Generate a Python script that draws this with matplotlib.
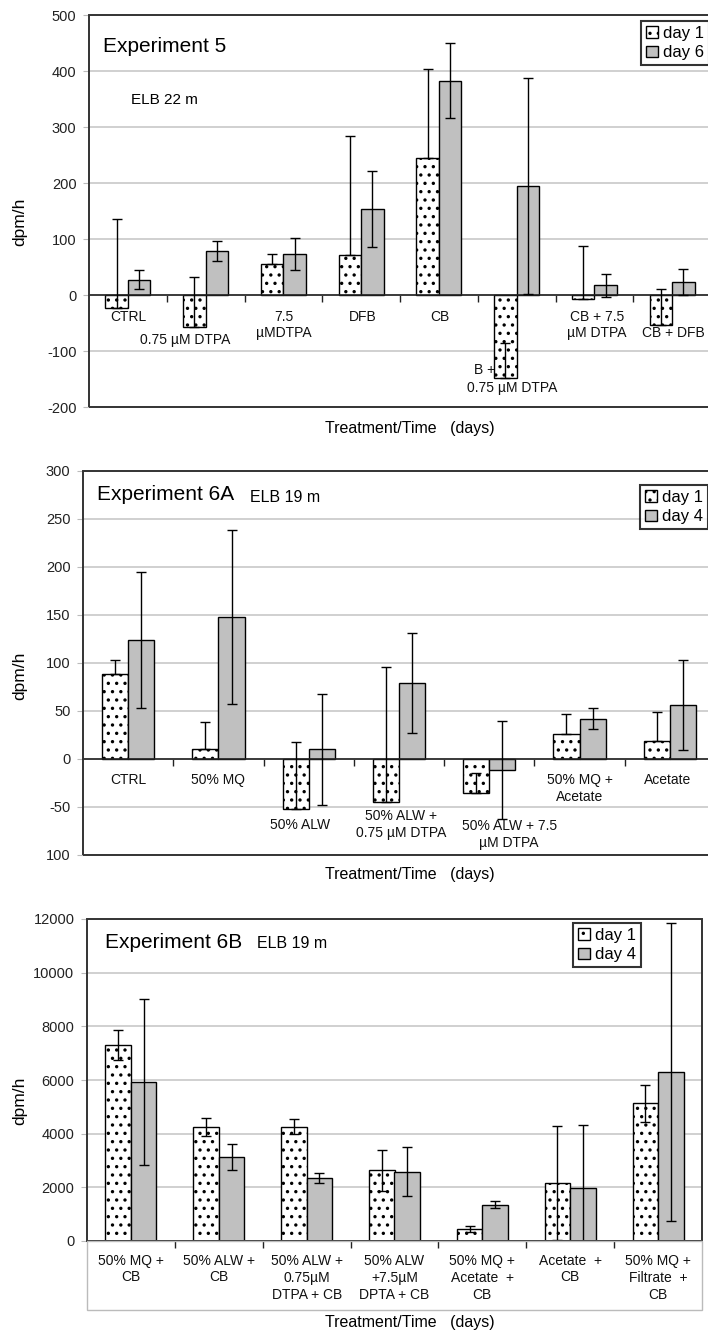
import numpy as np
import matplotlib
matplotlib.use("Agg")
import matplotlib.pyplot as plt
from matplotlib.patches import Patch, Rectangle
from matplotlib.transforms import blended_transform_factory

plt.rcParams['font.family'] = ['Liberation Sans', 'DejaVu Sans']
plt.rcParams['hatch.linewidth'] = 1.2
plt.rcParams['hatch.color'] = 'black'

W, H = 708, 1333

# ---- Experiment 5 (day 1 / day 6) ----
exp5_day1 = [-23, -57, 56, 72, 245, -148, -8, -53]
exp5_day1_err = [158, 90, 17, 212, 159, 63, 96, 63]      # plus only
exp5_day6 = [27, 78, 73, 153, 383, 194, 17, 23]
exp5_day6_err = [17, 18, 29, 68, 67, 193, 20, 23]

# ---- Experiment 6A (day 1 / day 4) ----
exp6a_day1 = [89, 10, -52, -45, -35, 26, 19]
exp6a_day1_err = [14, 29, 70, 141, 20, 21, 30]          # plus only
exp6a_day4 = [124, 148, 10, 79, -11, 42, 56]
exp6a_day4_err = [71, 91, 58, 52, 51, 11, 47]

# ---- Experiment 6B (day 1 / day 4) ----
exp6b_day1 = [7300, 4260, 4260, 2630, 440, 2150, 5130]
exp6b_day1_err = [550, 335, 285, 765, 110, 2130, 700]
exp6b_day4 = [5930, 3120, 2340, 2590, 1360, 1960, 6310]
exp6b_day4_err = [3090, 485, 190, 920, 125, 2360, 5550]

GRAY = '#c0c0c0'
FRAME = '#333333'


def rect(l, t, r, b):
    return [l / W, 1 - b / H, (r - l) / W, (b - t) / H]


def fy(py):
    return 1 - py / H


def panel(ax, d1, e1, d2, e2, plus_only, ylim, ticks, ticklabels):
    n = len(d1)
    x = np.arange(n) + 0.5
    w = 0.29
    ax.bar(x - w / 2, d1, w, color='white', edgecolor='black', lw=1,
           hatch='..', zorder=3)
    ax.bar(x + w / 2, d2, w, color=GRAY, edgecolor='black', lw=1, zorder=3)
    lo1 = np.zeros(n) if plus_only else e1
    ax.errorbar(x - w / 2, d1, yerr=[lo1, e1], fmt='none', ecolor='black',
                elinewidth=1, capsize=3.5, capthick=1, zorder=4)
    ax.errorbar(x + w / 2, d2, yerr=[e2, e2], fmt='none', ecolor='black',
                elinewidth=1, capsize=3.5, capthick=1, zorder=4)
    ax.set_xlim(0, n)
    ax.set_ylim(*ylim)
    ax.set_yticks(ticks)
    ax.set_yticklabels(ticklabels)
    ax.yaxis.grid(True, color='#c8c8c8', lw=1.2)
    ax.set_axisbelow(True)
    for s in ('left', 'right', 'top'):
        ax.spines[s].set_visible(False)
    ax.spines['bottom'].set_position(('data', 0))
    ax.spines['bottom'].set_color('#222222')
    ax.spines['bottom'].set_linewidth(1.2)
    ax.spines['bottom'].set_zorder(3.5)
    ax.set_xticks(np.arange(1, n))
    ax.set_xticklabels([])
    ax.tick_params(axis='x', direction='out', length=5, color='#222222', width=1)
    ax.tick_params(axis='y', direction='out', length=4, color='#bbbbbb',
                   labelsize=10.5, labelcolor='#222222', pad=5)
    ax.add_patch(Rectangle((0, 0), 1, 1, transform=ax.transAxes, fill=False,
                           ec=FRAME, lw=1.4, clip_on=False, zorder=5))


def cat_labels(ax, items, fs=10, ls=1.2):
    tr = blended_transform_factory(ax.transData, fig.transFigure)
    for i, txt, dx, py in items:
        ax.text(i + 0.5 + dx, fy(py), txt, transform=tr, ha='center',
                va='center', fontsize=fs, linespacing=ls, color='#111111',
                zorder=1)


def legend(handles_labels, x, y):
    hs = [Patch(facecolor='white', edgecolor='black', hatch='..'),
          Patch(facecolor=GRAY, edgecolor='black')]
    leg = fig.legend(hs, handles_labels, loc='upper left',
                     bbox_to_anchor=(x / W, fy(y)), frameon=True, fancybox=False,
                     edgecolor='black', fontsize=12, handlelength=0.7,
                     handleheight=0.7, handletextpad=0.3, borderpad=0.3,
                     labelspacing=0.25, borderaxespad=0)
    leg.get_frame().set_linewidth(1.5)


fig = plt.figure(figsize=(W / 100, H / 100), dpi=100)

# ---- panel 1 ----
ax1 = fig.add_axes(rect(89, 15, 711, 407))
panel(ax1, exp5_day1, exp5_day1_err, exp5_day6, exp5_day6_err, True,
      (-200, 500), np.arange(-200, 501, 100),
      [str(v) for v in range(-200, 501, 100)])
cat_labels(ax1, [
    (0, "CTRL", 0.01, 317),
    (1, "0.75 µM DTPA", -0.265, 340),
    (2, "7.5\nµMDTPA", 0.01, 325),
    (3, "DFB", 0.02, 317),
    (4, "CB", 0.01, 317),
    (5, "B +", -0.41, 370),
    (5, "0.75 µM DTPA", -0.06, 388),
    (6, "CB + 7.5\nµM DTPA", 0.03, 325),
    (7, "CB + DFB", 0.02, 333),
], ls=1.15)
fig.text(103 / W, fy(47), "Experiment 5", fontsize=15, va='center')
fig.text(131 / W, fy(100), "ELB 22 m", fontsize=11, va='center')
fig.text(20 / W, fy(222), "dpm/h", fontsize=12.5, rotation=90,
         ha='center', va='center')
fig.text(410 / W, fy(429), "Treatment/Time   (days)", fontsize=11.5,
         ha='center', va='center')
legend(['day 1', 'day 6'], 641, 21)

# ---- panel 2 ----
ax2 = fig.add_axes(rect(83, 471, 715, 855))
panel(ax2, exp6a_day1, exp6a_day1_err, exp6a_day4, exp6a_day4_err, True,
      (-100, 300), np.arange(-100, 301, 50),
      ["100", "-50", "0", "50", "100", "150", "200", "250", "300"])
cat_labels(ax2, [
    (0, "CTRL", 0.0, 780),
    (1, "50% MQ", 0.0, 780),
    (2, "50% ALW", -0.096, 825),
    (3, "50% ALW +\n0.75 µM DTPA", 0.02, 824.5),
    (4, "50% ALW + 7.5\nµM DTPA", 0.22, 834.5),
    (5, "50% MQ +\nAcetate", 0.0, 788.5),
    (6, "Acetate", -0.02, 780),
])
fig.text(97 / W, fy(495), "Experiment 6A", fontsize=15, va='center')
fig.text(250 / W, fy(497), "ELB 19 m", fontsize=11.5, va='center')
fig.text(20 / W, fy(676), "dpm/h", fontsize=12.5, rotation=90,
         ha='center', va='center')
fig.text(410 / W, fy(875), "Treatment/Time   (days)", fontsize=11.5,
         ha='center', va='center')
legend(['day 1', 'day 4'], 640, 485)

# ---- panel 3 ----
ax3 = fig.add_axes(rect(87, 919, 702, 1241))
panel(ax3, exp6b_day1, exp6b_day1_err, exp6b_day4, exp6b_day4_err, False,
      (0, 12000), np.arange(0, 12001, 2000),
      [str(v) for v in range(0, 12001, 2000)])
cat_labels(ax3, [
    (0, "50% MQ +\nCB", 0.0, 1269),
    (1, "50% ALW +\nCB", 0.0, 1269),
    (2, "50% ALW +\n0.75µM\nDTPA + CB", 0.0, 1278),
    (3, "50% ALW\n+7.5µM\nDPTA + CB", 0.0, 1278),
    (4, "50% MQ +\nAcetate  +\nCB", 0.0, 1278),
    (5, "Acetate  +\nCB", 0.0, 1269),
    (6, "50% MQ +\nFiltrate  +\nCB", 0.0, 1278),
], ls=1.25)
fig.add_artist(Rectangle((87 / W, fy(1310)), (702 - 87) / W, (1310 - 1241) / H,
                         transform=fig.transFigure, fill=False, ec='#bbbbbb',
                         lw=1))
fig.text(105 / W, fy(942), "Experiment 6B", fontsize=15, va='center')
fig.text(257 / W, fy(944), "ELB 19 m", fontsize=11.5, va='center')
fig.text(20 / W, fy(1101), "dpm/h", fontsize=12.5, rotation=90,
         ha='center', va='center')
fig.text(410 / W, fy(1323), "Treatment/Time   (days)", fontsize=11.5,
         ha='center', va='center')
legend(['day 1', 'day 4'], 573, 923)

fig.savefig("out.png", dpi=100)
